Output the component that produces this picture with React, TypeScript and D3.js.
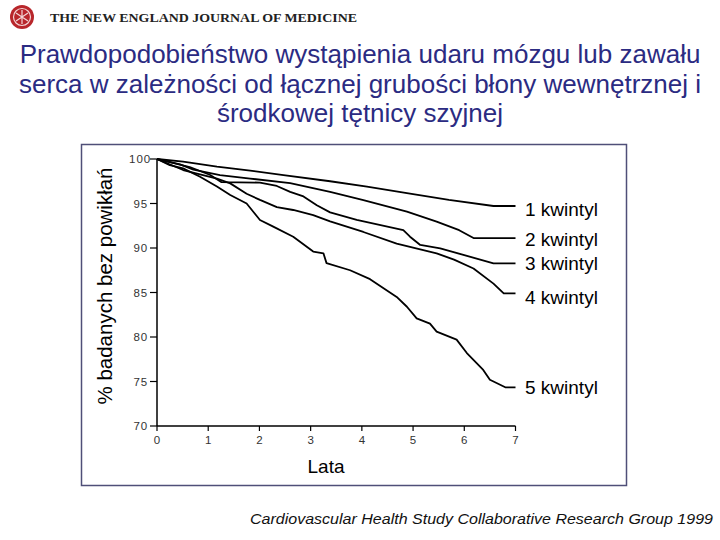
import React from "react";
import * as d3 from "d3";

const titleLines = [
  "Prawdopodobieństwo wystąpienia udaru mózgu lub zawału",
  "serca w zależności od łącznej grubości błony wewnętrznej i",
  "środkowej tętnicy szyjnej",
];
const yTicks = [70, 75, 80, 85, 90, 95, 100];
const xTicks = [0, 1, 2, 3, 4, 5, 6, 7];
const yLabel = "% badanych bez powikłań";
const xLabel = "Lata";
const source = "Cardiovascular Health Study Collaborative Research Group 1999";
const journal = "THE NEW ENGLAND JOURNAL OF MEDICINE";

// [years, % event-free]
const q1: [number, number][] = [
  [0, 100], [0.51, 99.7], [1.17, 99.15], [1.82, 98.7], [2.47, 98.2], [3.38, 97.5],
  [4.1, 96.9], [4.94, 96.1], [5.7, 95.4], [6.57, 94.72], [7, 94.72],
];
const q2: [number, number][] = [
  [0, 100], [0.45, 99.4], [0.71, 98.8], [1.23, 98.2], [1.82, 97.8], [2.6, 97.3],
  [3.38, 96.3], [4.03, 95.39], [4.88, 94.08], [5.46, 92.96], [5.9, 92.0], [6.18, 91.12], [7, 91.12],
];
const q3: [number, number][] = [
  [0, 100], [0.64, 99.1], [1.04, 98.2], [1.26, 97.4], [2.01, 97.35], [2.34, 96.97],
  [2.6, 96.3], [2.86, 95.8], [3.12, 94.8], [3.38, 94.0], [3.9, 93.15], [4.81, 92.0],
  [4.94, 91.27], [5.14, 90.34], [5.53, 89.96], [6.0, 89.2], [6.57, 88.28], [7, 88.28],
];
const q4: [number, number][] = [
  [0, 100], [0.51, 98.76], [1.17, 97.8], [1.43, 97.26], [1.75, 96.1], [2.01, 95.4],
  [2.34, 94.6], [2.66, 94.27], [3.05, 93.7], [3.38, 93.0], [4.03, 91.8], [4.68, 90.5],
  [5.46, 89.4], [5.8, 88.7], [6.18, 87.7], [6.57, 86.0], [6.77, 84.9], [7, 84.9],
];
const q5: [number, number][] = [
  [0, 100], [0.25, 99.3], [0.51, 98.95], [0.84, 98.0], [1.17, 96.9], [1.43, 95.96],
  [1.75, 95.0], [2.01, 93.15], [2.27, 92.4], [2.66, 91.27], [3.05, 89.6], [3.25, 89.4],
  [3.31, 88.3], [3.77, 87.5], [4.16, 86.5], [4.68, 84.5], [4.88, 83.4], [5.07, 82.1],
  [5.33, 81.5], [5.46, 80.6], [5.85, 79.7], [6.05, 78.2], [6.37, 76.3], [6.5, 75.2],
  [6.8, 74.35], [7, 74.35],
];
const seriesNames = ["1 kwintyl", "2 kwintyl", "3 kwintyl", "4 kwintyl", "5 kwintyl"];
const seriesData = [q1, q2, q3, q4, q5];

export default function App() {
  const x = d3.scaleLinear().domain([0, 7]).range([157, 515.5]);
  const y = d3.scaleLinear().domain([70, 100]).range([426, 159]);
  const line = d3
    .line<[number, number]>()
    .x((d) => x(d[0]))
    .y((d) => y(d[1]))
    .curve(d3.curveLinear);
  const sans = "'Liberation Sans', Arial, sans-serif";
  const labelBaselines = [216, 246, 270, 304, 394];

  return (
    <svg
      width={720}
      height={540}
      style={{ position: "absolute", left: 0, top: 0, background: "#fff" }}
      fontFamily={sans}
    >
      <rect x={0} y={0} width={720} height={540} fill="#fff" />
      {/* header logo */}
      <g>
        <circle cx={22} cy={17} r={12} fill="#b8262b" />
        <circle cx={22} cy={17} r={8.5} fill="none" stroke="#f3d6d6" strokeWidth={1.2} />
        <path d="M16,13 L28,21 M28,13 L16,21 M22,10 L22,24" stroke="#f3d6d6" strokeWidth={1.2} />
        <text
          x={50}
          y={21.5}
          fontFamily="'Liberation Serif', 'DejaVu Serif', serif"
          fontWeight="bold"
          fontSize={11.5}
          textLength={307}
          lengthAdjust="spacingAndGlyphs"
          fill="#222"
        >
          {journal}
        </text>
      </g>
      {/* title */}
      {titleLines.map((t, i) => (
        <text key={i} x={360} y={63 + i * 29.5} textAnchor="middle" fontSize={26} fill="#2b2b82">
          {t}
        </text>
      ))}
      {/* frame */}
      <rect x={81.5} y={144.5} width={545} height={341} fill="none" stroke="#4f4f78" strokeWidth={1.5} />
      {/* axes */}
      <line x1={157} x2={157} y1={y(100)} y2={y(70)} stroke="#000" strokeWidth={1.5} />
      <line x1={157} x2={x(7)} y1={y(70)} y2={y(70)} stroke="#000" strokeWidth={1.5} />
      {yTicks.map((v) => (
        <g key={v}>
          <line x1={150} x2={157} y1={y(v)} y2={y(v)} stroke="#000" strokeWidth={1.2} />
          <text x={v === 100 ? 151 : 148} y={y(v) + 4} textAnchor="end" fontSize={11.5} fill="#333" letterSpacing={0.9}>
            {v}
          </text>
        </g>
      ))}
      {xTicks.map((v) => (
        <g key={v}>
          <line x1={x(v)} x2={x(v)} y1={426} y2={431} stroke="#000" strokeWidth={1.2} />
          <text x={x(v)} y={444} textAnchor="middle" fontSize={11.5} fill="#333">
            {v}
          </text>
        </g>
      ))}
      {/* curves */}
      {seriesData.map((s, i) => (
        <path key={i} d={line(s) || ""} fill="none" stroke="#000" strokeWidth={1.8} strokeLinejoin="round" />
      ))}
      {/* labels */}
      {seriesNames.map((n, i) => (
        <text key={n} x={525} y={labelBaselines[i]} fontSize={19} fill="#000">
          {n}
        </text>
      ))}
      {/* axis titles */}
      <text
        transform={`translate(112,286) rotate(-90)`}
        textAnchor="middle"
        fontSize={20.5}
        fill="#000"
      >
        {yLabel}
      </text>
      <text x={326} y={473} textAnchor="middle" fontSize={19} fill="#000">
        {xLabel}
      </text>
      {/* source */}
      <text
        x={250}
        y={524}
        fontSize={15}
        fontStyle="italic"
        fill="#111"
        textLength={463}
        lengthAdjust="spacingAndGlyphs"
      >
        {source}
      </text>
    </svg>
  );
}
